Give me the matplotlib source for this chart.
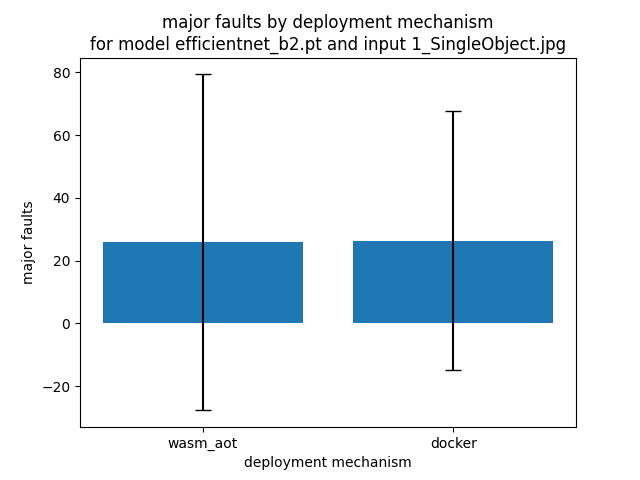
import matplotlib
matplotlib.use('Agg')
import matplotlib.pyplot as plt

mechanisms = ['wasm_aot', 'docker']
mean_faults = [25.8, 26.4]
std_faults = [53.5, 41.2]

fig, ax = plt.subplots(figsize=(6.4, 4.8), dpi=100)
ax.bar(mechanisms, mean_faults, yerr=std_faults, capsize=6, color='#1f77b4')
ax.set_xlabel('deployment mechanism')
ax.set_ylabel('major faults')
ax.set_title('major faults by deployment mechanism\nfor model efficientnet_b2.pt and input 1_SingleObject.jpg')
fig.savefig('out.png')
